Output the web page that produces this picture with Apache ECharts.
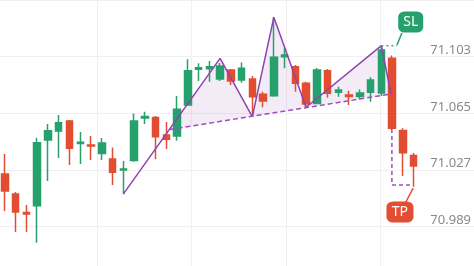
<!DOCTYPE html>
<html>
<head>
<meta charset="utf-8">
<script src="https://cdn.jsdelivr.net/npm/echarts@6/dist/echarts.min.js"></script>
<style>
  html, body { margin:0; padding:0; background:#fff; }
  #chart { width:474px; height:266px; }
</style>
</head>
<body>
<div id="chart"></div>
<script type="text/javascript">
// candle prices, left to right
var opens  = [71.0243, 71.0109, 70.9985, 71.0031, 71.0471, 71.0532, 71.0599, 71.0448, 71.0438, 71.0381, 71.0344, 71.0270, 71.0334, 71.0619, 71.0622, 71.0505, 71.0498, 71.0706, 71.0946, 71.0950, 71.0881, 71.0941, 71.0874, 71.0881, 71.0778, 71.0769, 71.1030, 71.0963, 71.0852, 71.0717, 71.0936, 71.0791, 71.0773, 71.0763, 71.0791, 71.0787, 71.1019, 71.0535, 71.0368];
var closes = [71.0129, 70.9989, 70.9975, 71.0453, 71.0534, 71.0587, 71.0416, 71.0456, 71.0431, 71.0451, 71.0255, 71.0277, 71.0599, 71.0629, 71.0494, 71.0476, 71.0677, 71.0936, 71.0956, 71.0963, 71.0968, 71.0867, 71.0952, 71.0762, 71.0733, 71.1026, 71.1041, 71.0852, 71.0713, 71.0941, 71.0785, 71.0807, 71.0763, 71.0787, 71.0874, 71.1075, 71.0550, 71.0386, 71.0297];
var lows   = [70.9995, 70.9855, 70.9855, 70.9783, 71.0197, 71.0351, 71.0304, 71.0311, 71.0337, 71.0337, 71.0170, 71.0109, 71.0326, 71.0579, 71.0342, 71.0411, 71.0467, 71.0699, 71.0867, 71.0862, 71.0867, 71.0840, 71.0856, 71.0628, 71.0691, 71.0762, 71.0952, 71.0795, 71.0686, 71.0713, 71.0755, 71.0762, 71.0706, 71.0744, 71.0728, 71.0767, 71.0539, 71.0230, 71.0158];
var highs  = [71.0378, 71.0123, 71.0036, 71.0487, 71.0579, 71.0639, 71.0606, 71.0525, 71.0498, 71.0485, 71.0422, 71.0331, 71.0650, 71.0661, 71.0632, 71.0592, 71.0767, 71.1013, 71.0986, 71.1001, 71.0988, 71.0948, 71.0992, 71.0901, 71.0795, 71.1296, 71.1090, 71.0974, 71.0862, 71.0954, 71.0948, 71.0829, 71.0802, 71.0811, 71.0892, 71.1105, 71.1038, 71.0550, 71.0384];
var categories = opens.map(function (v, i) { return String(i + 1); });

// tick labels on the price scale
var tickLabels = ['70.989', '71.027', '71.065', '71.103'];

// head & shoulders pattern (candle index, price)
var patternX = [11, 20, 23, 25, 28, 35, 35.9];
var patternY = [71.0109, 71.1019, 71.0628, 71.1294, 71.0691, 71.1104, 71.0780];
var neckX = [15.32, 35.9];
var neckY = [71.0542, 71.0780];

// stop loss / take profit marks
var slX = [35, 36.45];
var slY = [71.1104, 71.1104];
var slTailX = [36.45, 36.91];
var slTailY = [71.1109, 71.1189];
var slBox = [37.73, 71.1263];
var tpX = [35.98, 35.98, 37.96];
var tpY = [71.0545, 71.0170, 71.0170];
var tpTailX = [37.96, 37.28];
var tpTailY = [71.0149, 71.0056];
var tpBox = [36.73, 70.9989];

var base = 70.989;
function u(p) { return Math.round((p - base) * 100000) / 100; }
function pts(xs, ys) { return xs.map(function (x, i) { return [x, u(ys[i])]; }); }

var green = '#26a06c', red = '#e34d31', purple = '#8e44ad';

var candles = opens.map(function (o, i) {
  return [u(o), u(closes[i]), u(lows[i]), u(highs[i])];
});

// fill polygon: neckline start, pattern points after the start, closed along neckline
var fillPts = [[neckX[0], u(neckY[0])]].concat(pts(patternX.slice(1), patternY.slice(1)));

var myChart = echarts.init(document.getElementById('chart'));
myChart.setOption({
  animation: false,
  backgroundColor: '#fff',
  grid: [
    { left: -0.4, width: 419.4, top: -56.6, height: 340, outerBoundsMode: 'none', containLabel: false },
    { left: 0, right: 0, top: -56.6, height: 340, outerBoundsMode: 'none', containLabel: false },
    { left: 97, width: 283.2, top: 0, bottom: 0, outerBoundsMode: 'none', containLabel: false }
  ],
  xAxis: [
    { type: 'category', gridIndex: 0, data: categories, boundaryGap: true, show: false },
    { type: 'value', gridIndex: 0, min: -0.5, max: 38.5, show: false },
    { type: 'value', gridIndex: 1, min: 0, max: 1, show: false },
    { type: 'value', gridIndex: 2, min: 0, max: 3, interval: 1,
      axisLine: { show: false }, axisTick: { show: false }, axisLabel: { show: false },
      splitLine: { show: true, lineStyle: { color: '#f0f0f0', width: 1 } } }
  ],
  yAxis: [
    { type: 'value', gridIndex: 0, min: -38, max: 190, show: false },
    { type: 'value', gridIndex: 1, min: -38, max: 190, interval: 38, position: 'right',
      axisLine: { show: false }, axisTick: { show: false },
      splitLine: { show: true, lineStyle: { color: '#f0f0f0', width: 1 } },
      axisLabel: {
        inside: true, margin: 3, verticalAlign: 'bottom',
        color: '#8a8a8a', fontSize: 13, fontFamily: 'Noto Sans',
        formatter: function (v) {
          var s = (base + v / 1000).toFixed(3);
          return tickLabels.indexOf(s) >= 0 ? s : '';
        }
      } },
    { type: 'value', gridIndex: 2, min: 0, max: 1, show: false }
  ],
  series: [
    {
      type: 'custom', xAxisIndex: 1, yAxisIndex: 0, z: 1,
      data: [[0, 0]],
      renderItem: function (params, api) {
        return {
          type: 'polygon',
          shape: { points: fillPts.map(function (p) { return api.coord(p); }) },
          style: { fill: 'rgba(155,89,182,0.12)' }
        };
      }
    },
    {
      type: 'candlestick', xAxisIndex: 0, yAxisIndex: 0, z: 3,
      barWidth: 7,
      data: candles,
      itemStyle: { color: green, color0: red, borderColor: green, borderColor0: red, borderWidth: 1.5 }
    },
    {
      type: 'line', xAxisIndex: 1, yAxisIndex: 0, z: 4, symbol: 'none',
      data: pts(patternX, patternY),
      lineStyle: { color: purple, width: 1.5 }
    },
    {
      type: 'line', xAxisIndex: 1, yAxisIndex: 0, z: 4, symbol: 'none',
      data: pts(neckX, neckY),
      lineStyle: { color: '#9b4fc0', width: 1.5, type: [5, 3] }
    },
    {
      type: 'line', xAxisIndex: 1, yAxisIndex: 0, z: 4, symbol: 'none',
      data: pts(tpX, tpY),
      lineStyle: { color: '#9b4fc0', width: 1.5, type: [4, 3] }
    },
    {
      type: 'line', xAxisIndex: 1, yAxisIndex: 0, z: 4, symbol: 'none',
      data: pts(slX, slY),
      lineStyle: { color: '#6b8f80', width: 1.5, type: [2, 3] }
    },
    {
      type: 'line', xAxisIndex: 1, yAxisIndex: 0, z: 5, symbol: 'none',
      data: pts(slTailX, slTailY),
      lineStyle: { color: green, width: 1.5 }
    },
    {
      type: 'line', xAxisIndex: 1, yAxisIndex: 0, z: 5, symbol: 'none',
      data: pts(tpTailX, tpTailY),
      lineStyle: { color: red, width: 1.5 }
    },
    {
      type: 'scatter', xAxisIndex: 1, yAxisIndex: 0, z: 6,
      symbol: 'roundRect', symbolSize: [25, 21],
      data: [[slBox[0], u(slBox[1])]],
      itemStyle: { color: green, opacity: 1 },
      label: { show: true, position: 'inside', formatter: 'SL', color: '#fff', fontSize: 14, fontFamily: 'Noto Sans' }
    },
    {
      type: 'scatter', xAxisIndex: 1, yAxisIndex: 0, z: 6,
      symbol: 'roundRect', symbolSize: [27, 21],
      data: [[tpBox[0], u(tpBox[1])]],
      itemStyle: { color: red, opacity: 1 },
      label: { show: true, position: 'inside', formatter: 'TP', color: '#fff', fontSize: 14, fontFamily: 'Noto Sans' }
    }
  ]
});
</script>
</body>
</html>
